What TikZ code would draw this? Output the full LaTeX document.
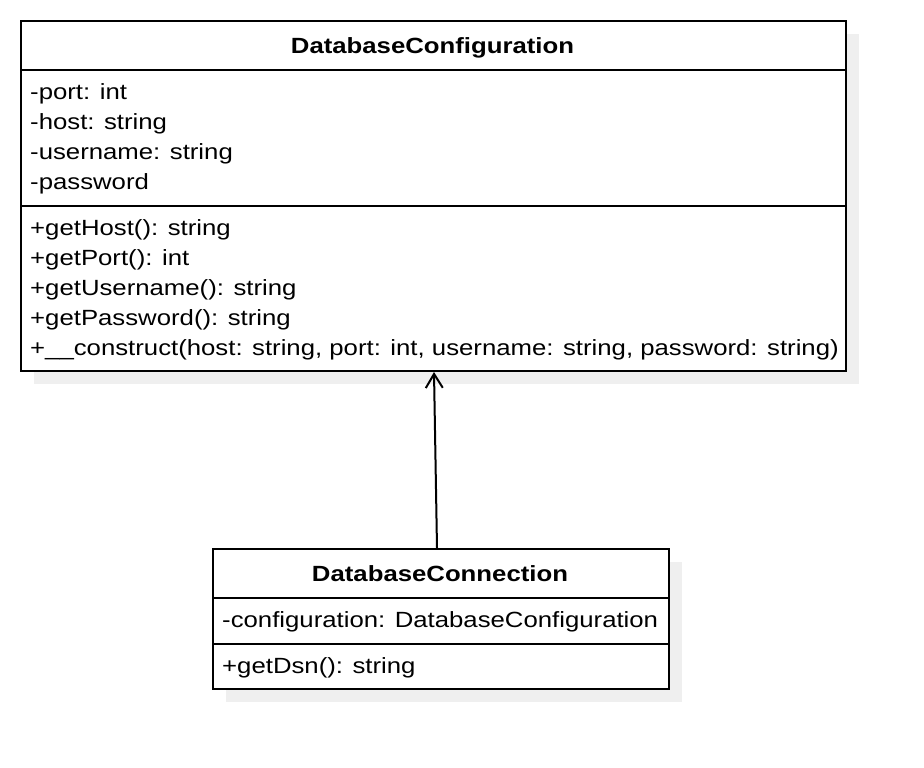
\documentclass[tikz,border=0pt]{standalone}
\usepackage{fontspec}
\setmainfont[FakeStretch=1.17]{Liberation Sans}
\usetikzlibrary{arrows.meta}
\definecolor{shadowgray}{HTML}{EFEFEF}
\tikzset{
  classbox/.style={draw=black, line width=2pt, fill=white, rectangle, inner sep=0pt, anchor=north west},
  shadowbox/.style={fill=shadowgray, draw=none, rectangle, inner sep=0pt, anchor=north west},
  sep/.style={draw=black, line width=2pt},
  member/.style={anchor=base west, inner sep=0pt, font=\fontsize{22}{26}\selectfont},
  title/.style={anchor=base, inner sep=0pt, font=\fontsize{22}{26}\selectfont\bfseries},
  assoc/.style={draw=black, line width=2pt, -{Straight Barb[length=14pt,width=17pt,line width=2pt]}}
}
\begin{document}
\begin{tikzpicture}[x=1pt,y=-1pt]
\useasboundingbox (0,0) rectangle (924,768);
% shadows
\node[shadowbox, minimum width=825pt, minimum height=350pt] (s1) at (34,34) {};
\node[shadowbox, minimum width=456pt, minimum height=140pt] (s2) at (226,562) {};
% class 1
\node[classbox, minimum width=825pt, minimum height=350pt] (c1) at (20,20) {};
\coordinate (c1a) at (20,70);
\coordinate (c1b) at (845,70);
\coordinate (c1c) at (20,206);
\coordinate (c1d) at (845,206);
\draw[sep] (c1a) -- (c1b);
\draw[sep] (c1c) -- (c1d);
\node[title] (t1) at (432.5,53.5) {DatabaseConfiguration};
\node[member] (a1) at (30,99.5) {-port: int};
\node[member] (a2) at (30,129.5) {-host: string};
\node[member] (a3) at (30,159.5) {-username: string};
\node[member] (a4) at (30,189.5) {-password};
\node[member] (m1) at (30,235.5) {+getHost(): string};
\node[member] (m2) at (30,265.5) {+getPort(): int};
\node[member] (m3) at (30,295.5) {+getUsername(): string};
\node[member] (m4) at (30,325.5) {+getPassword(): string};
\node[member] (m5) at (30,355.5) {+\_\_construct(host: string, port: int, username: string, password: string)};
% class 2
\node[classbox, minimum width=456pt, minimum height=140pt] (c2) at (212,548) {};
\coordinate (c2a) at (212,598);
\coordinate (c2b) at (668,598);
\coordinate (c2c) at (212,644);
\coordinate (c2d) at (668,644);
\draw[sep] (c2a) -- (c2b);
\draw[sep] (c2c) -- (c2d);
\node[title] (t2) at (440,581.5) {DatabaseConnection};
\node[member] (b1) at (222,627.5) {-configuration: DatabaseConfiguration};
\node[member] (n1) at (222,673.5) {+getDsn(): string};
% connector
\draw[assoc] ([xshift=-4pt]c2.north) -- ([xshift=0.5pt]c1.south);
\end{tikzpicture}
\end{document}
